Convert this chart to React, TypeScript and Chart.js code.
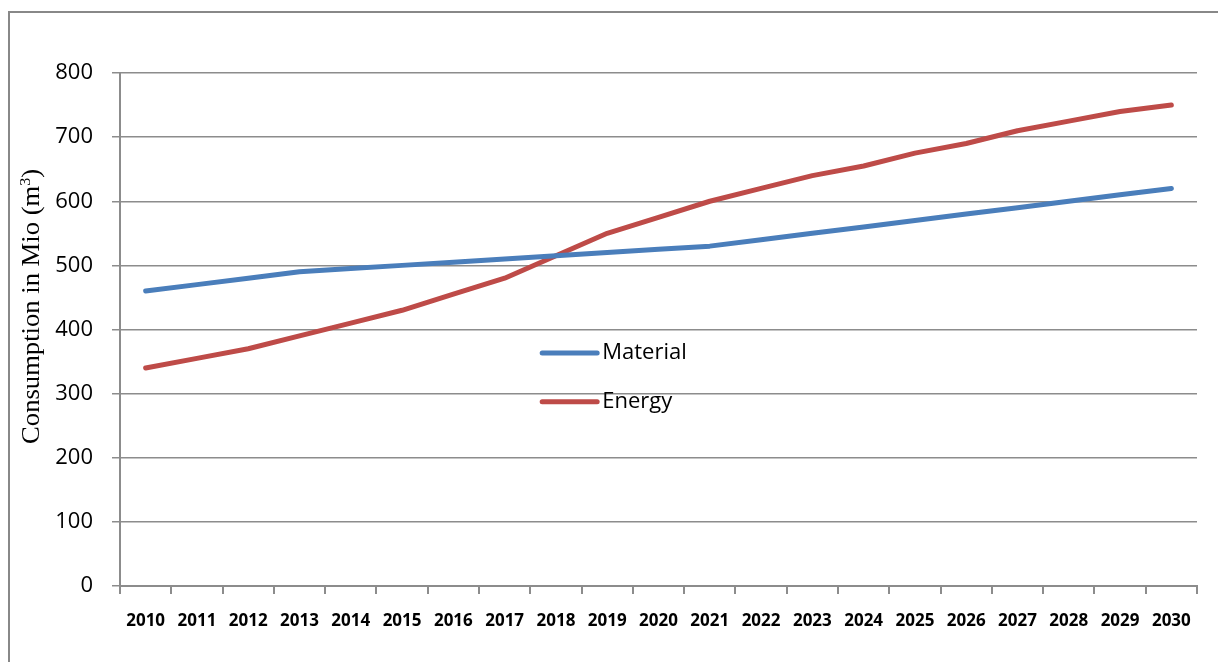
import React, { useEffect, useRef } from "react";
import { Chart, registerables } from "chart.js";

Chart.register(...registerables);

// Yearly consumption outlook, million m³
const years = [
  "2010", "2011", "2012", "2013", "2014", "2015", "2016", "2017", "2018", "2019", "2020",
  "2021", "2022", "2023", "2024", "2025", "2026", "2027", "2028", "2029", "2030",
];
const materialValues = [
  460, 470, 480, 490, 495, 500, 505, 510, 515, 520, 525,
  530, 540, 550, 560, 570, 580, 590, 600, 610, 620,
];
const energyValues = [
  340, 355, 370, 390, 410, 430, 455, 480, 515, 550, 575,
  600, 620, 640, 655, 675, 690, 710, 725, 740, 750,
];
const yTicks = [0, 100, 200, 300, 400, 500, 600, 700, 800];
const seriesNames = ["Material", "Energy"];
const seriesColors = ["#4A7EBB", "#BE4B48"];

const GRID = "#8c8c8c";
const SANS = '"Open Sans", "Liberation Sans", sans-serif';
const SERIF = '"Liberation Serif", "Times New Roman", serif';

// Vertical axis title with a real superscript for m³
const yTitlePlugin = {
  id: "yTitle",
  afterDraw(chart: any) {
    const ctx = chart.ctx as CanvasRenderingContext2D;
    const area = chart.chartArea;
    const main = "Consumption in Mio (m";
    const sup = "3";
    const tail = ")";
    ctx.save();
    ctx.fillStyle = "#000";
    ctx.textBaseline = "alphabetic";
    ctx.textAlign = "left";
    ctx.font = `25px ${SERIF}`;
    const wMain = ctx.measureText(main).width;
    const wTail = ctx.measureText(tail).width;
    ctx.font = `15px ${SERIF}`;
    const wSup = ctx.measureText(sup).width;
    const total = wMain + wSup + wTail;
    const target = 275;
    const sx = target / total;
    const centerY = area.top + (area.bottom - area.top) * 0.455;
    ctx.translate(39, centerY + target / 2);
    ctx.rotate(-Math.PI / 2);
    ctx.scale(sx, 1);
    ctx.font = `25px ${SERIF}`;
    ctx.fillText(main, 0, 0);
    ctx.font = `15px ${SERIF}`;
    ctx.fillText(sup, wMain, -9);
    ctx.font = `25px ${SERIF}`;
    ctx.fillText(tail, wMain + wSup, 0);
    ctx.restore();
  },
};

// Legend drawn inside the plot area
const innerLegendPlugin = {
  id: "innerLegend",
  afterDraw(chart: any) {
    const ctx = chart.ctx as CanvasRenderingContext2D;
    const { left, right, top, bottom } = chart.chartArea;
    const w = right - left;
    const h = bottom - top;
    const x0 = left + w * 0.392;
    const x1 = x0 + 55;
    const rows = [top + h * 0.546, top + h * 0.641];
    ctx.save();
    chart.data.datasets.forEach((ds: any, i: number) => {
      const y = rows[i];
      ctx.strokeStyle = ds.borderColor;
      ctx.lineWidth = 5;
      ctx.lineCap = "round";
      ctx.beginPath();
      ctx.moveTo(x0, y);
      ctx.lineTo(x1, y);
      ctx.stroke();
      ctx.fillStyle = "#000";
      ctx.font = `22px ${SANS}`;
      ctx.textBaseline = "middle";
      ctx.textAlign = "left";
      ctx.fillText(ds.label, x1 + 5, y);
    });
    ctx.restore();
  },
};

export default function App() {
  const canvasRef = useRef<HTMLCanvasElement | null>(null);

  useEffect(() => {
    if (!canvasRef.current) return;
    const chart = new Chart(canvasRef.current, {
      type: "line",
      data: {
        labels: years,
        datasets: [
          {
            label: seriesNames[0],
            data: materialValues,
            borderColor: seriesColors[0],
            backgroundColor: seriesColors[0],
            borderWidth: 5,
            borderCapStyle: "round",
            borderJoinStyle: "round",
            pointRadius: 0,
            tension: 0,
          },
          {
            label: seriesNames[1],
            data: energyValues,
            borderColor: seriesColors[1],
            backgroundColor: seriesColors[1],
            borderWidth: 5,
            borderCapStyle: "round",
            borderJoinStyle: "round",
            pointRadius: 0,
            tension: 0,
          },
        ],
      },
      options: {
        responsive: false,
        animation: false,
        layout: { padding: { top: 73, right: 21, left: 0, bottom: 0 } },
        plugins: {
          legend: { display: false },
          tooltip: { enabled: false },
        },
        scales: {
          x: {
            offset: true,
            grid: {
              offset: true,
              drawOnChartArea: false,
              drawTicks: true,
              tickLength: 8,
              color: GRID,
              lineWidth: 2,
            },
            border: { display: true, color: GRID, width: 2 },
            ticks: {
              color: "#000",
              font: { family: SANS, size: 17, weight: "bold" },
              padding: 17,
              maxRotation: 0,
              autoSkip: false,
            },
            afterFit(scale: any) {
              scale.height = 76;
            },
          },
          y: {
            min: 0,
            max: 800,
            afterBuildTicks(scale: any) {
              scale.ticks = yTicks.map((v) => ({ value: v }));
            },
            grid: {
              color: GRID,
              lineWidth: 1.5,
              drawTicks: true,
              tickLength: 8,
            },
            border: { display: true, color: GRID, width: 2 },
            ticks: {
              color: "#000",
              font: { family: SANS, size: 22 },
              padding: 19,
            },
            afterFit(scale: any) {
              scale.width = 120;
            },
          },
        },
      },
      plugins: [yTitlePlugin, innerLegendPlugin],
    });
    return () => chart.destroy();
  }, []);

  return (
    <div
      style={{
        position: "absolute",
        left: 0,
        top: 0,
        width: 1218,
        height: 662,
        background: "#fff",
        overflow: "hidden",
      }}
    >
      <div
        style={{
          position: "absolute",
          left: 8,
          top: 11,
          width: 1300,
          height: 700,
          borderLeft: "2px solid #888",
          borderTop: "2px solid #888",
        }}
      />
      <canvas
        ref={canvasRef}
        width={1218}
        height={662}
        style={{ position: "absolute", left: 0, top: 0 }}
      />
    </div>
  );
}
